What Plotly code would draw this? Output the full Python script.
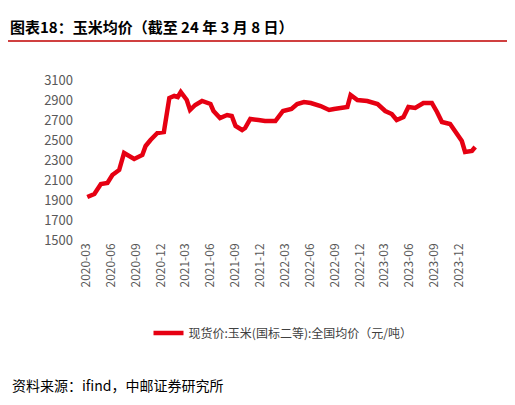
import plotly.graph_objects as go

dates = ["2020-03-06","2020-04-01","2020-04-25","2020-05-19","2020-06-06","2020-07-01","2020-07-19","2020-08-25","2020-09-24","2020-10-06","2020-10-24","2020-11-18","2020-12-12","2021-01-01","2021-01-19","2021-02-01","2021-02-12","2021-03-06","2021-03-18","2021-04-06","2021-05-01","2021-06-01","2021-06-12","2021-07-06","2021-08-01","2021-08-18","2021-09-01","2021-09-25","2021-10-06","2021-10-25","2021-11-24","2021-12-18","2022-01-25","2022-02-22","2022-03-25","2022-04-15","2022-05-10","2022-06-04","2022-07-10","2022-08-10","2022-08-28","2022-09-22","2022-10-16","2022-10-28","2022-11-22","2022-12-28","2023-02-04","2023-03-04","2023-03-28","2023-04-15","2023-05-10","2023-05-28","2023-06-22","2023-07-22","2023-08-22","2023-09-10","2023-09-28","2023-10-28","2023-11-22","2023-12-10","2023-12-22","2024-01-16","2024-01-28"]
prices = [1930,1960,2060,2070,2150,2200,2370,2310,2350,2440,2500,2570,2580,2920,2940,2930,2980,2900,2800,2850,2890,2860,2790,2720,2750,2740,2640,2600,2620,2710,2700,2690,2690,2790,2810,2860,2880,2870,2840,2800,2810,2820,2830,2950,2900,2890,2860,2790,2760,2700,2730,2830,2820,2870,2870,2780,2680,2660,2560,2490,2380,2390,2430]
tick_vals = ["2020-03-01","2020-06-01","2020-09-01","2020-12-01","2021-03-01","2021-06-01","2021-09-01","2021-12-01","2022-03-01","2022-06-01","2022-09-01","2022-12-01","2023-03-01","2023-06-01","2023-09-01","2023-12-01"]
tick_text = [t[:7] for t in tick_vals]
y_ticks = [1500,1700,1900,2100,2300,2500,2700,2900,3100]

T, B = 72, 173
H = 405 - T - B
fig = go.Figure()
fig.add_trace(go.Scatter(x=dates, y=prices, mode="lines", line=dict(color="#E60012", width=4.5),
                         name="现货价:玉米(国标二等):全国均价（元/吨）"))
fig.update_layout(
    width=515, height=405, margin=dict(l=70, r=35, t=T, b=B),
    paper_bgcolor="white", plot_bgcolor="white",
    font=dict(family="Noto Sans CJK SC", color="#595959", size=12),
    showlegend=True,
    legend=dict(orientation="h", x=0.5, xanchor="center", y=-93/H, yanchor="middle", font=dict(size=12, color="#404040")),
    xaxis=dict(type="date", range=["2020-02-01","2024-03-15"], tickvals=tick_vals, ticktext=tick_text,
               tickangle=-90, showgrid=False, showline=False, ticks="", tickfont=dict(size=12, color="#595959")),
    yaxis=dict(range=[1500,3100], tickvals=y_ticks, showgrid=False, showline=False, ticks="",
               tickfont=dict(size=13, color="#595959"), ticklabelstandoff=4),
)
fig.add_annotation(text="<b>图表18：玉米均价（截至 24 年 3 月 8 日）</b>", xref="paper", yref="paper", x=0, y=1, xanchor="left", yanchor="top",
                   xshift=-70, yshift=T-6, showarrow=False, font=dict(size=15, color="#000000"))
fig.add_shape(type="line", xref="paper", yref="paper", x0=-70/410, x1=1+35/410, y0=1+(T-33)/H, y1=1+(T-33)/H,
              line=dict(color="#C00000", width=1.5))
fig.add_annotation(text="资料来源：ifind，中邮证券研究所", xref="paper", yref="paper", x=0, y=0, xanchor="left", yanchor="middle",
                   xshift=-68, yshift=-145, showarrow=False, font=dict(size=14, color="#000000"))
fig.write_html("out.html")
